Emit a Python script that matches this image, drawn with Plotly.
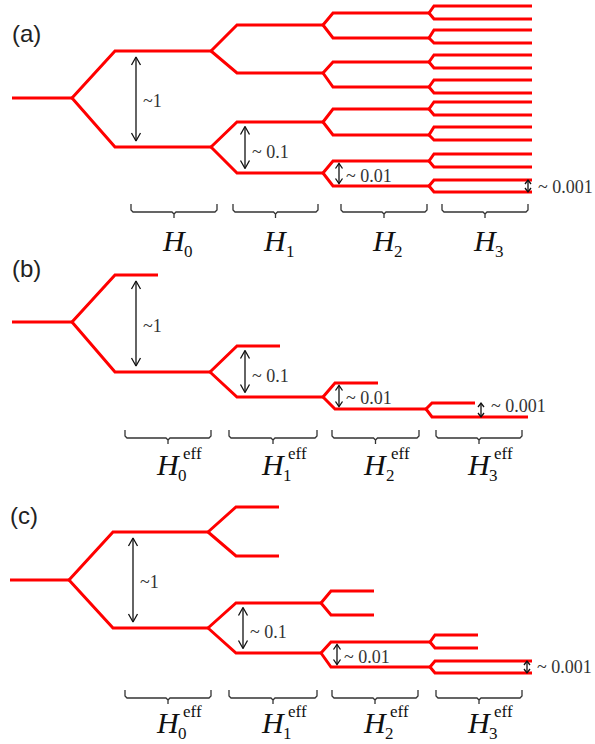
import plotly.graph_objects as go

# Branch heights (page px, y grows downward), one list per splitting level.
# Panel (a): every branch splits again
A_ROOT = 98
A_LEVELS = [
    [51, 147],
    [25, 73, 122, 173],
    [13, 38, 62, 87, 109, 135, 161, 186],
    [6, 19, 30, 43, 55, 68, 80, 93, 102, 115, 127, 140, 154, 167, 180, 192],
]
A_SPLITS = [[0, 1], [0, 1, 2, 3], [0, 1, 2, 3, 4, 5, 6, 7]]
A_LONG = list(range(16))

# Panel (b): only the lower branch is followed
B_ROOT = 322
B_LEVELS = [
    [275, 372],
    [346, 397],
    [383, 409],
    [403, 417],
]
B_SPLITS = [[1], [1], [1]]
B_LONG = [1]

# Panel (c): the lower pair is followed
C_ROOT = 580
C_LEVELS = [
    [532, 628],
    [507, 556, 603, 653],
    [591, 615, 642, 667],
    [635, 648, 661, 673],
]
C_SPLITS = [[0, 1], [2, 3], [2, 3]]
C_LONG = [2, 3]

GAP_LABELS = ["~1", "~ 0.1", "~ 0.01", "~ 0.001"]
SUBS = ["0", "1", "2", "3"]

RED = "#ff0000"
INK = "#333333"
STUB = 43
ARROW_PAD = [6, 4.5, 2.5, 0]
HEAD = [(8, 4.5), (8, 4.5), (5, 3.5), (4, 3)]
LABEL_DX = [5, 5, 5, 8]

panels = [
    dict(tag="(a)", tag_xy=(10, 33), root=A_ROOT, levels=A_LEVELS, splits=A_SPLITS, long=A_LONG,
         x0=12, split_x=[72, 211, 323, 429], bend_x=[115, 237, 333, 434], x_end=532,
         arrow_x=[136, 245, 339, 528], label_dy=[2, 4, 2, 1],
         brace_x=[(131, 217), (233, 318), (341, 427), (442, 528)], brace_y=212, h_dy=28, eff=False),
    dict(tag="(b)", tag_xy=(10, 268), root=B_ROOT, levels=B_LEVELS, splits=B_SPLITS, long=B_LONG,
         x0=12, split_x=[72, 210, 323, 426], bend_x=[115, 237, 335, 432], x_end=528,
         arrow_x=[136, 245, 339, 481], label_dy=[2, 4, 2, -4],
         brace_x=[(125, 211), (229, 317), (332, 419), (436, 522)], brace_y=438, h_dy=26, eff=True),
    dict(tag="(c)", tag_xy=(8, 515), root=C_ROOT, levels=C_LEVELS, splits=C_SPLITS, long=C_LONG,
         x0=10, split_x=[69, 208, 321, 430], bend_x=[113, 236, 331, 435], x_end=532,
         arrow_x=[133, 243, 337, 527], label_dy=[2, 4, 2, 0],
         brace_x=[(125, 211), (229, 317), (332, 418), (436, 522)], brace_y=698, h_dy=24, eff=True),
]

fig = go.Figure()
annotations = []

for p in panels:
    # red level tree
    xs = [p["x0"], p["split_x"][0], None]
    ys = [p["root"], p["root"], None]
    parents = [p["root"]]
    last = len(p["levels"]) - 1
    for k, level in enumerate(p["levels"]):
        sx, bx = p["split_x"][k], p["bend_x"][k]
        for j, py in enumerate(parents):
            for c in (2 * j, 2 * j + 1):
                cy = level[c]
                if k < last and c in p["splits"][k]:
                    ex = p["split_x"][k + 1]
                elif k == last and c in p["long"]:
                    ex = p["x_end"]
                else:
                    ex = bx + STUB
                xs += [sx, bx, ex, None]
                ys += [py, cy, cy, None]
        if k < last:
            parents = [level[i] for i in p["splits"][k]]
    fig.add_trace(go.Scatter(x=xs, y=ys, mode="lines", line=dict(color=RED, width=3),
                             hoverinfo="skip", showlegend=False))

    # double arrows across the lowest pair of every level
    axs, ays = [], []
    for k, level in enumerate(p["levels"]):
        a, b = level[-2], level[-1]
        x = p["arrow_x"][k]
        y0, y1 = a + ARROW_PAD[k], b - ARROW_PAD[k]
        hl, hw = HEAD[k]
        axs += [x, x, None, x - hw, x, x + hw, None, x - hw, x, x + hw, None]
        ays += [y0, y1, None, y0 + hl, y0, y0 + hl, None, y1 - hl, y1, y1 - hl, None]
        annotations.append(dict(x=x + LABEL_DX[k], y=(a + b) / 2 + p["label_dy"][k],
                                text=GAP_LABELS[k], showarrow=False,
                                xanchor="left", yanchor="middle",
                                font=dict(family="Liberation Serif", size=18, color=INK)))
    fig.add_trace(go.Scatter(x=axs, y=ays, mode="lines", line=dict(color="#111111", width=1.3),
                             hoverinfo="skip", showlegend=False))

    # braces and H labels
    bxs, bys = [], []
    yb = p["brace_y"]
    top, tip = yb - 8, yb + 6
    for k, (xl, xr) in enumerate(p["brace_x"]):
        m = (xl + xr) / 2
        bxs += [xl, xl, xl + 2, m - 2, m, m, None, m, m + 2, xr - 2, xr, xr, None]
        bys += [top, yb - 2, yb, yb, yb + 2, tip, None, yb + 2, yb, yb, yb - 2, top, None]
        hy = yb + p["h_dy"]
        annotations.append(dict(x=m, y=hy, text="<i>H</i>", showarrow=False,
                                xanchor="center", yanchor="middle",
                                font=dict(family="Liberation Serif", size=30, color="#111111")))
        annotations.append(dict(x=m + 8, y=hy + 11, text=SUBS[k], showarrow=False,
                                xanchor="left", yanchor="middle",
                                font=dict(family="Liberation Serif", size=17, color="#111111")))
        if p["eff"]:
            annotations.append(dict(x=m + 13, y=hy - 11, text="eff", showarrow=False,
                                    xanchor="left", yanchor="middle",
                                    font=dict(family="Liberation Serif", size=17, color="#111111")))
    fig.add_trace(go.Scatter(x=bxs, y=bys, mode="lines", line=dict(color=INK, width=1.3),
                             hoverinfo="skip", showlegend=False))

    annotations.append(dict(x=p["tag_xy"][0], y=p["tag_xy"][1], text=p["tag"], showarrow=False,
                            xanchor="left", yanchor="middle",
                            font=dict(family="Liberation Sans", size=24, color="#222222")))

fig.update_layout(
    width=595, height=744,
    margin=dict(l=0, r=0, t=0, b=0),
    paper_bgcolor="white", plot_bgcolor="white",
    xaxis=dict(range=[0, 595], visible=False, fixedrange=True),
    yaxis=dict(range=[744, 0], visible=False, fixedrange=True),
    annotations=annotations,
    showlegend=False,
)

# drop the browser's default 8px body margin so page px match the layout
fig.write_html("out.html", config={"displayModeBar": False},
               post_script="document.body.style.margin='0';document.body.style.overflow='hidden';")
